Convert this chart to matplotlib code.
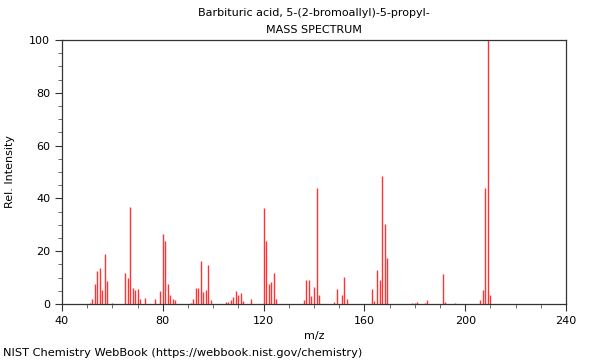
import matplotlib
matplotlib.use("Agg")
import matplotlib.pyplot as plt
from matplotlib.ticker import MultipleLocator

# peaks (m/z, relative intensity)
mz = [51, 52, 53, 54, 55, 56, 57, 58, 60,
      65, 66, 67, 68, 69, 70, 71, 73, 77, 79, 80, 81, 82, 83, 84, 85,
      91, 92, 93, 94, 95, 96, 97, 98, 99,
      105, 106, 107, 108, 109, 110, 111, 112, 115,
      120, 121, 122, 123, 124, 125,
      136, 137, 138, 139, 140, 141, 142,
      148, 149, 151, 152, 153,
      163, 164, 165, 166, 167, 168, 169,
      179, 180, 181, 184, 185, 191, 192, 196,
      206, 207, 208, 209, 210]
intensity = [0.5, 2.0, 7.7, 12.6, 13.8, 5.4, 19.0, 8.6, 0.4,
             11.9, 10.0, 36.6, 5.9, 5.4, 5.8, 1.8, 2.4, 2.0, 5.0, 26.5, 23.9, 7.7, 3.5, 2.0, 1.4,
             0.5, 1.8, 5.9, 5.9, 16.4, 4.4, 5.2, 14.9, 1.4,
             0.9, 0.9, 1.4, 2.8, 4.8, 3.5, 4.3, 1.0, 1.8,
             36.2, 24.0, 7.7, 8.5, 11.9, 1.9,
             1.4, 9.0, 9.2, 2.9, 6.6, 44.1, 3.5,
             0.9, 5.6, 3.3, 10.1, 2.0,
             5.8, 1.1, 12.9, 9.1, 48.5, 30.3, 17.4,
             0.5, 0.5, 0.8, 0.4, 1.6, 11.4, 0.8, 0.5,
             1.6, 5.3, 43.9, 100.0, 3.4]

title = "Barbituric acid, 5-(2-bromoallyl)-5-propyl-"
footer = "NIST Chemistry WebBook (https://webbook.nist.gov/chemistry)"

fig = plt.figure(figsize=(6, 3.6), dpi=100)
ax = fig.add_axes([62 / 600, 56 / 360, 504 / 600, 264 / 360])

ax.vlines(mz, 0, intensity, colors="#ff3333", linewidth=1.0)

ax.set_xlim(40, 240)
ax.set_ylim(0, 100)
ax.xaxis.set_major_locator(MultipleLocator(40))
ax.xaxis.set_minor_locator(MultipleLocator(10))
ax.yaxis.set_major_locator(MultipleLocator(20))
ax.yaxis.set_minor_locator(MultipleLocator(5))
ax.tick_params(which="major", length=5, width=0.8, labelsize=8, color="#333333")
ax.tick_params(which="minor", length=3, width=0.6, color="#555555")
for s in ax.spines.values():
    s.set_color("#333333")
    s.set_linewidth(0.9)

ax.set_xlabel("m/z", fontsize=8, labelpad=4)
ax.set_ylabel("Rel. Intensity", fontsize=8, labelpad=10)

fig.text(314 / 600, 1 - 13 / 360, title, ha="center", va="center", fontsize=8)
fig.text(314 / 600, 1 - 30 / 360, "MASS SPECTRUM", ha="center", va="center", fontsize=8)
fig.text(3 / 600, 1 - 353 / 360, footer, ha="left", va="center", fontsize=8.2)

fig.savefig("out.png", dpi=100)
